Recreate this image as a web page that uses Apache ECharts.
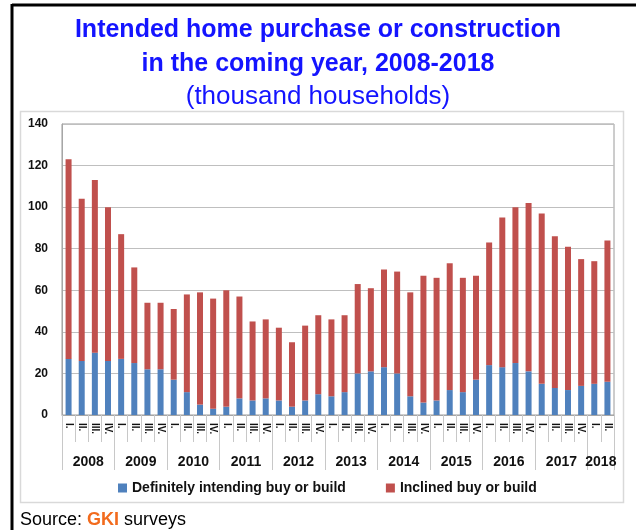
<!DOCTYPE html>
<html>
<head>
<meta charset="utf-8">
<script src="https://cdn.jsdelivr.net/npm/echarts@6/dist/echarts.min.js"></script>
<style>
html,body{margin:0;padding:0;background:#fff;}
#chart{width:636px;height:530px;}
</style>
</head>
<body>
<div id="chart"></div>
<script>
const years = ['2008','2009','2010','2011','2012','2013','2014','2015','2016','2017','2018'];
const quarterLabels = ['I.','II.','III.','IV.'];
const quartersPerYear = [4,4,4,4,4,4,4,4,4,4,2];
const definitely = [27,26,30,26, 27,25,22,22, 17,11,5,3, 4,8,7,8, 7,4,7,10, 9,11,20,21, 23,20,9,6, 7,12,11,17, 24,23,25,21, 15,13,12,14, 15,16];
const inclined   = [96,78,83,74, 60,46,32,32, 34,47,54,53, 56,49,38,38, 35,31,36,38, 37,37,43,40, 47,49,50,61, 59,61,55,50, 59,72,75,81, 82,73,69,61, 59,68];
const yTicks = [0,20,40,60,80,100,120,140];
const seriesNames = ['Definitely intending buy or build','Inclined buy or build'];

const categories = [];
const yearCenters = {};
let pos = 0;
years.forEach((y, i) => {
  const n = quartersPerYear[i];
  yearCenters[pos + n / 2] = y;
  for (let q = 0; q < n; q++) categories.push(y + ' ' + quarterLabels[q]);
  pos += n;
});
const nCat = categories.length;

const chart = echarts.init(document.getElementById('chart'), null, {renderer:'canvas'});
const axisGray = '#a6a6a6';
chart.setOption({
  backgroundColor:'#fff',
  animation:false,
  title:[
    {text:'Intended home purchase or construction', left:'center', top:13,
     textStyle:{fontFamily:'Liberation Sans', fontWeight:'bold', fontSize:25, color:'#1414ff'}},
    {text:'in the coming year, 2008-2018', left:'center', top:47,
     textStyle:{fontFamily:'Liberation Sans', fontWeight:'bold', fontSize:25, color:'#1414ff'}},
    {text:'(thousand households)', left:'center', top:79,
     textStyle:{fontFamily:'Liberation Sans', fontWeight:'normal', fontSize:26, color:'#1414ff'}},
    {text:'Source: {g|GKI} surveys', left:15, top:506,
     textStyle:{fontFamily:'Liberation Sans', fontWeight:'normal', fontSize:18, color:'#000',
       rich:{g:{fontFamily:'Liberation Sans', fontWeight:'bold', fontSize:18, color:'#f26b1d'}}}}
  ],
  graphic:[
    {type:'rect', shape:{x:20.5,y:111.5,width:603,height:391}, style:{fill:'none', stroke:'#d9d9d9', lineWidth:1.5}, z:-1},
    {type:'line', shape:{x1:12,y1:5,x2:636,y2:5}, style:{stroke:'#000', lineWidth:3}},
    {type:'line', shape:{x1:12,y1:4,x2:12,y2:530}, style:{stroke:'#000', lineWidth:3}}
  ],
  legend:{
    left:113, top:476, itemWidth:9, itemHeight:9, itemGap:40, icon:'rect',
    textStyle:{fontFamily:'Liberation Sans', fontWeight:'bold', fontSize:14, color:'#111'}
  },
  grid:{left:62, right:22, top:124, bottom:115, show:true, borderColor:'#9a9a9a', borderWidth:1},
  xAxis:[
    {type:'category', data:categories, position:'bottom', boundaryGap:true,
     axisLine:{show:true, lineStyle:{color:axisGray}},
     axisTick:{show:true, length:27, lineStyle:{color:'#c8c8c8'}},
     axisLabel:{rotate:-90, margin:8, fontSize:10, fontWeight:'bold', fontFamily:'Liberation Sans', color:'#111',
       formatter:(v)=>v.split(' ')[1], interval:0}},
    {type:'value', min:0, max:nCat, interval:4, position:'bottom',
     axisLine:{show:false}, splitLine:{show:false},
     axisTick:{show:true, length:55, lineStyle:{color:'#c8c8c8'}},
     axisLabel:{show:false}},
    {type:'value', min:0, max:nCat, interval:1, position:'bottom',
     axisLine:{show:false}, splitLine:{show:false}, axisTick:{show:false},
     axisLabel:{show:true, margin:40, fontSize:14, fontWeight:'bold', fontFamily:'Liberation Sans', color:'#111',
       formatter:(v)=> yearCenters[v] || ''}}
  ],
  yAxis:{type:'value', min:0, max:yTicks[yTicks.length-1], interval:20,
    axisLine:{show:true, lineStyle:{color:axisGray}},
    axisTick:{show:false},
    splitLine:{lineStyle:{color:'#bfbfbf'}},
    axisLabel:{margin:14, fontSize:12, fontWeight:'bold', fontFamily:'Liberation Sans', color:'#111'}},
  series:[
    {name:seriesNames[0], type:'bar', stack:'t', xAxisIndex:0, data:definitely, barWidth:6,
     itemStyle:{color:'#4f81bd'}},
    {name:seriesNames[1], type:'bar', stack:'t', xAxisIndex:0, data:inclined, barWidth:6,
     itemStyle:{color:'#c0504d'}}
  ]
});
</script>
</body>
</html>
